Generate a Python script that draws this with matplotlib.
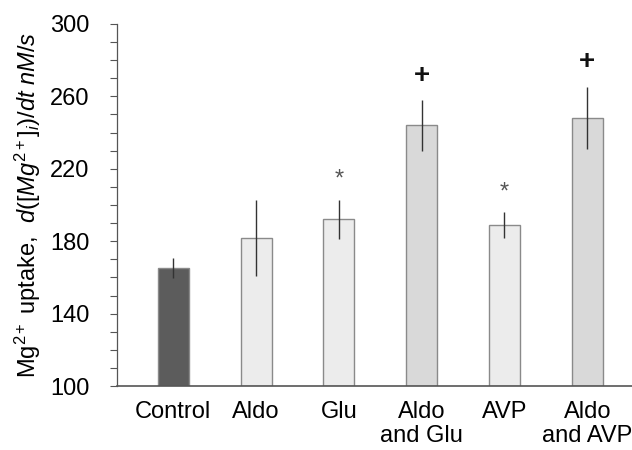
import numpy as np
import matplotlib.pyplot as plt

plt.rcParams['font.family'] = ['Liberation Sans', 'DejaVu Sans']
plt.rcParams['mathtext.fontset'] = 'custom'
plt.rcParams['mathtext.rm'] = 'Liberation Sans'
plt.rcParams['mathtext.it'] = 'Liberation Sans:italic'

groups = ['Control', 'Aldo', 'Glu', 'Aldo\nand Glu', 'AVP', 'Aldo\nand AVP']
uptake = [165, 182, 192, 244, 189, 248]
err = [5.5, 21, 11, 14, 7, 17]
marks = ['', '', '*', '+', '*', '+']
mark_y = [0, 0, 214, 271, 207, 279]

colors = ['#5c5c5c', '#ececec', '#ececec', '#d9d9d9', '#ececec', '#d9d9d9']

fig = plt.figure(figsize=(6.32, 4.5), dpi=100)
ax = fig.add_axes([0.185, 0.142, 0.815, 0.805])

x = np.arange(len(groups))
ax.bar(x, np.array(uptake) - 100, bottom=100, width=0.375, color=colors,
       edgecolor='#8a8a8a', linewidth=1.0, zorder=2)
ax.errorbar(x, uptake, yerr=err, fmt='none', ecolor='#333333', elinewidth=1.0,
            capsize=0, zorder=3)

for xi, m, my in zip(x, marks, mark_y):
    if m == '*':
        ax.text(xi, my, m, ha='center', va='center', fontsize=17, color='#555555')
    elif m == '+':
        ax.text(xi, my, m, ha='center', va='center', fontsize=20, color='#111111',
                fontweight='bold')

ax.set_xlim(-0.68, 5.54)
ax.set_ylim(100, 300)
ax.set_yticks(range(100, 301, 40))
ax.set_yticks(range(100, 301, 10), minor=True)
ax.tick_params(axis='y', which='both', direction='out', length=5, width=0.8,
               color='#555555', labelsize=17, pad=15)
ax.set_xticks(x)
ax.set_xticklabels(groups, fontsize=17, linespacing=1.1)
ax.tick_params(axis='x', length=0, pad=11)

for s in ['top', 'right']:
    ax.spines[s].set_visible(False)
ax.spines['left'].set_color('#555555')
ax.spines['bottom'].set_color('#555555')
ax.spines['left'].set_linewidth(0.9)
ax.spines['bottom'].set_linewidth(1.2)

ax.set_ylabel(r'Mg$^{2+}$ uptake,  $d([Mg^{2+}]_i)/dt\ nM/s$', fontsize=17,
              labelpad=5)

fig.savefig('out.png', dpi=100)
